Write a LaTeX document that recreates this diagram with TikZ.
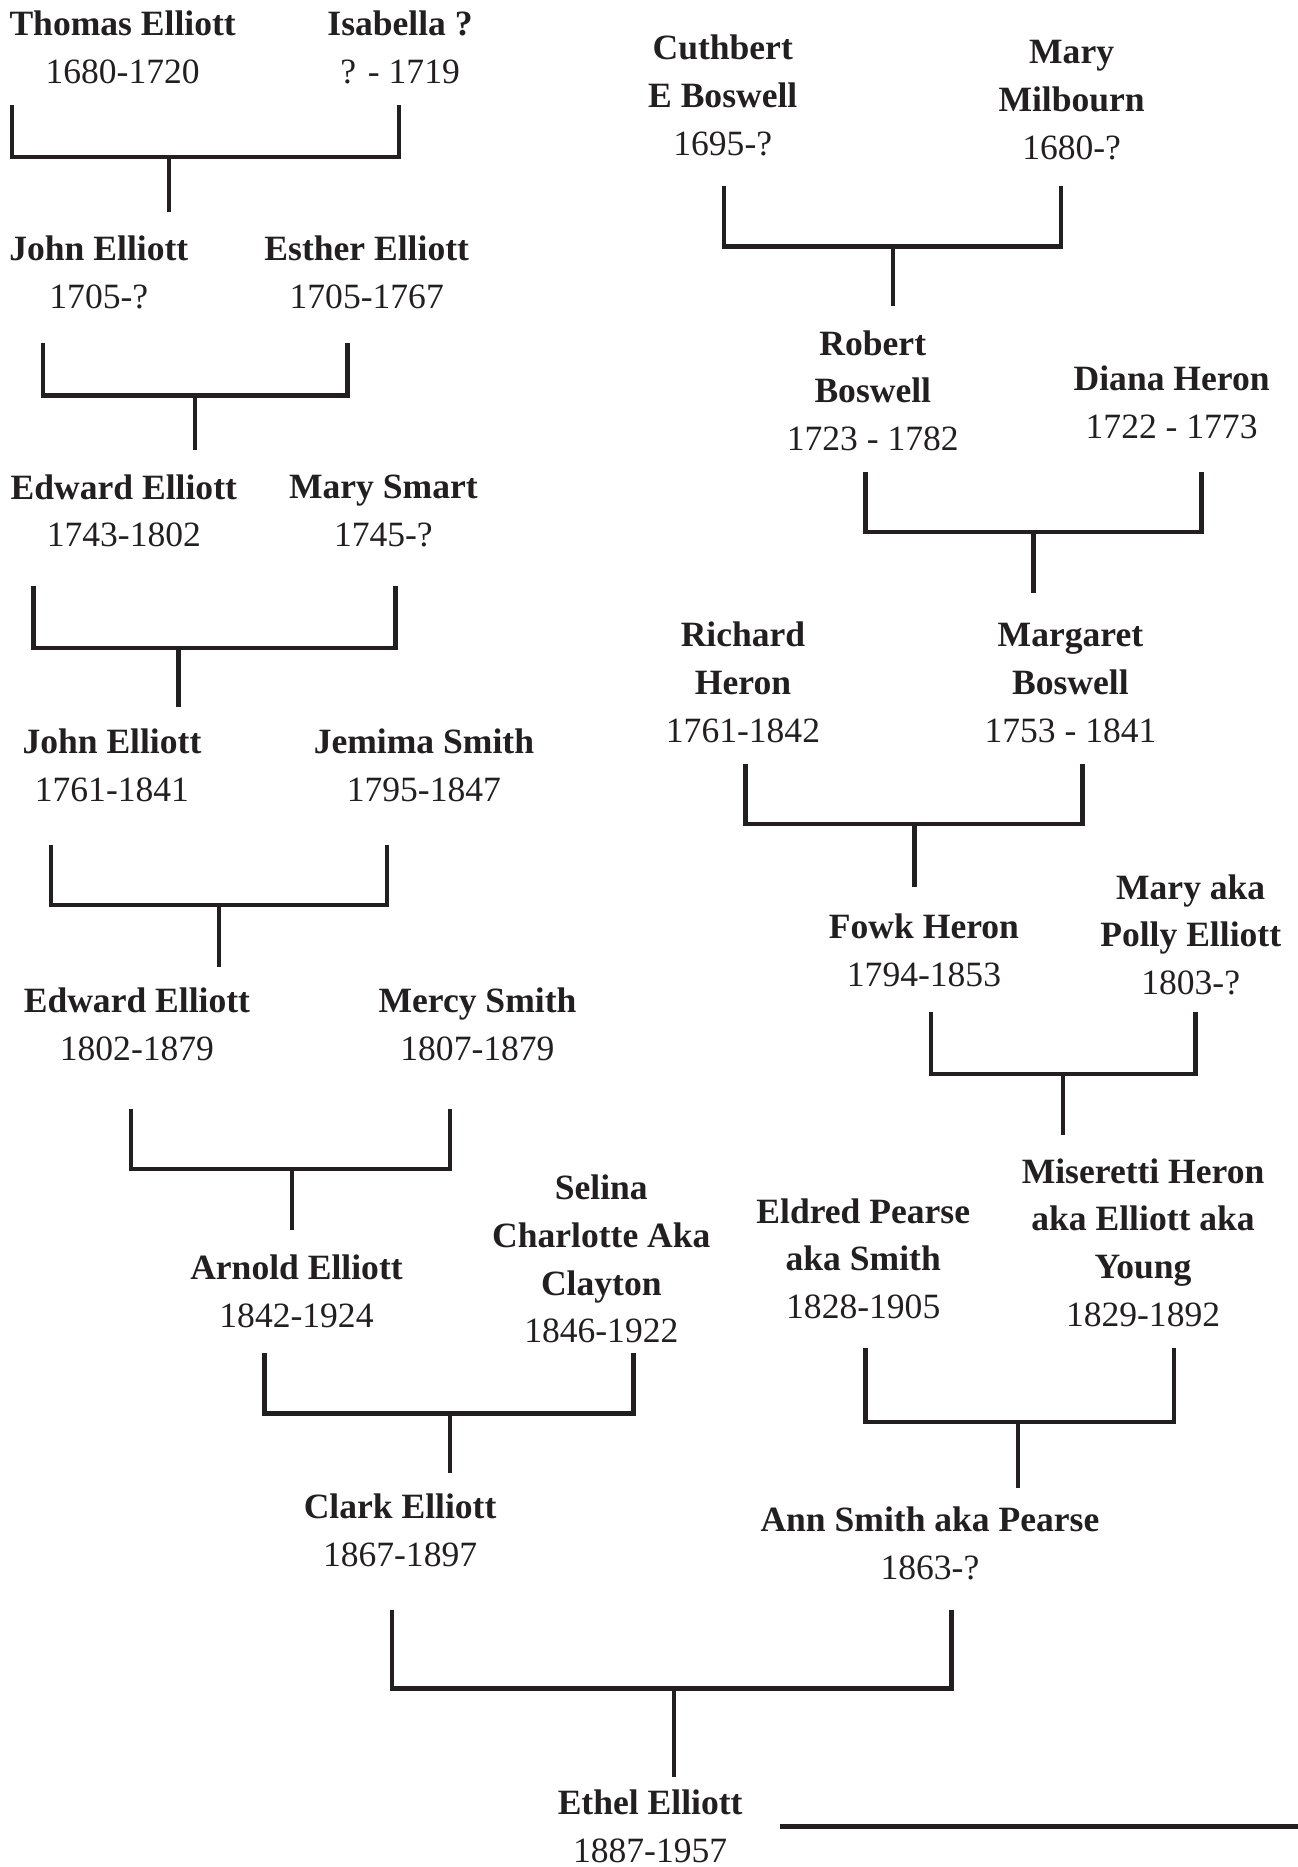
\documentclass[tikz,border=0pt]{standalone}
\usepackage{fontspec}
\setmainfont{Liberation Serif}
\definecolor{ink}{HTML}{231F20}
\newcommand{\yrs}[1]{{\mdseries #1}}
% bracket: left x, right x, top y, bottom y, stem x, stem end y
\newcommand{\couple}[6]{%
  \draw[famline] (#1,#3) |- (#2,#4) -- (#2,#3);
  \draw[famline] (#5,#4) -- (#5,#6);}
\tikzset{
  person/.style={align=center, inner sep=0pt, text=ink,
    font=\fontsize{17pt}{22.8pt}\selectfont\bfseries},
  famline/.style={draw=ink, line width=2.1pt, line join=miter}
}
\begin{document}
\begin{tikzpicture}[x=0.02cm, y=-0.02cm]
\useasboundingbox (0,0) rectangle (1090,1568);

% Elliott side
\node[person] (thomas) at (103,40) {Thomas Elliott\\\yrs{1680-1720}};
\node[person] (isabella) at (336,40) {Isabella ?\\\yrs{? - 1719}};
\couple{10}{335}{88}{132}{142}{178}

\node[person] (john1) at (83,229) {John Elliott\\\yrs{1705-?}};
\node[person] (esther) at (308,229) {Esther Elliott\\\yrs{1705-1767}};
\couple{36}{292}{288}{332}{164}{378}

\node[person] (edward1) at (104,429) {Edward Elliott\\\yrs{1743-1802}};
\node[person] (marysmart) at (322,429) {Mary Smart\\\yrs{1745-?}};
\couple{28}{332}{492}{544}{150}{594}

\node[person] (john2) at (94,643) {John Elliott\\\yrs{1761-1841}};
\node[person] (jemima) at (356,643) {Jemima Smith\\\yrs{1795-1847}};
\couple{43}{325}{710}{760}{184}{812}

\node[person] (edward2) at (115,860) {Edward Elliott\\\yrs{1802-1879}};
\node[person] (mercy) at (401,860) {Mercy Smith\\\yrs{1807-1879}};
\couple{110}{378}{931}{982}{245}{1033}

\node[person] (arnold) at (249,1084.5) {Arnold Elliott\\\yrs{1842-1924}};
\node[person] (selina) at (505,1057.5) {Selina\\Charlotte Aka\\Clayton\\\yrs{1846-1922}};
\couple{222}{532}{1136}{1187}{378}{1237}

\node[person] (clark) at (336,1285) {Clark Elliott\\\yrs{1867-1897}};

% Boswell / Heron side
\node[person] (cuthbert) at (607,80) {Cuthbert\\E Boswell\\\yrs{1695-?}};
\node[person] (milbourn) at (900,84) {Mary\\Milbourn\\\yrs{1680-?}};
\couple{608}{891}{156}{207}{750}{257}

\node[person] (robert) at (733,328) {Robert\\Boswell\\\yrs{1723 - 1782}};
\node[person] (diana) at (984,338) {Diana Heron\\\yrs{1722 - 1773}};
\couple{727}{1009}{396}{447}{868}{498}

\node[person] (richard) at (624,573) {Richard\\Heron\\\yrs{1761-1842}};
\node[person] (margaret) at (899,573.5) {Margaret\\Boswell\\\yrs{1753 - 1841}};
\couple{626}{909}{642}{692}{768}{745}

\node[person] (fowk) at (776,798) {Fowk Heron\\\yrs{1794-1853}};
\node[person] (polly) at (1000,785) {Mary aka\\Polly Elliott\\\yrs{1803-?}};
\couple{782}{1004}{850}{902}{893}{953}

\node[person] (eldred) at (725,1057) {Eldred Pearse\\aka Smith\\\yrs{1828-1905}};
\node[person] (miseretti) at (960,1043.5) {Miseretti Heron\\aka Elliott aka\\Young\\\yrs{1829-1892}};
\couple{727}{986}{1132}{1194}{855}{1250}

\node[person] (ann) at (781,1296) {Ann Smith aka Pearse\\\yrs{1863-?}};
\couple{329}{799}{1352}{1418}{566}{1492}

\node[person] (ethel) at (546,1534) {Ethel Elliott\\\yrs{1887-1957}};
\coordinate (ruleend) at (1090,1534);
\draw[famline] (ethel.east) ++(31,0) -- (ruleend);

\end{tikzpicture}
\end{document}
